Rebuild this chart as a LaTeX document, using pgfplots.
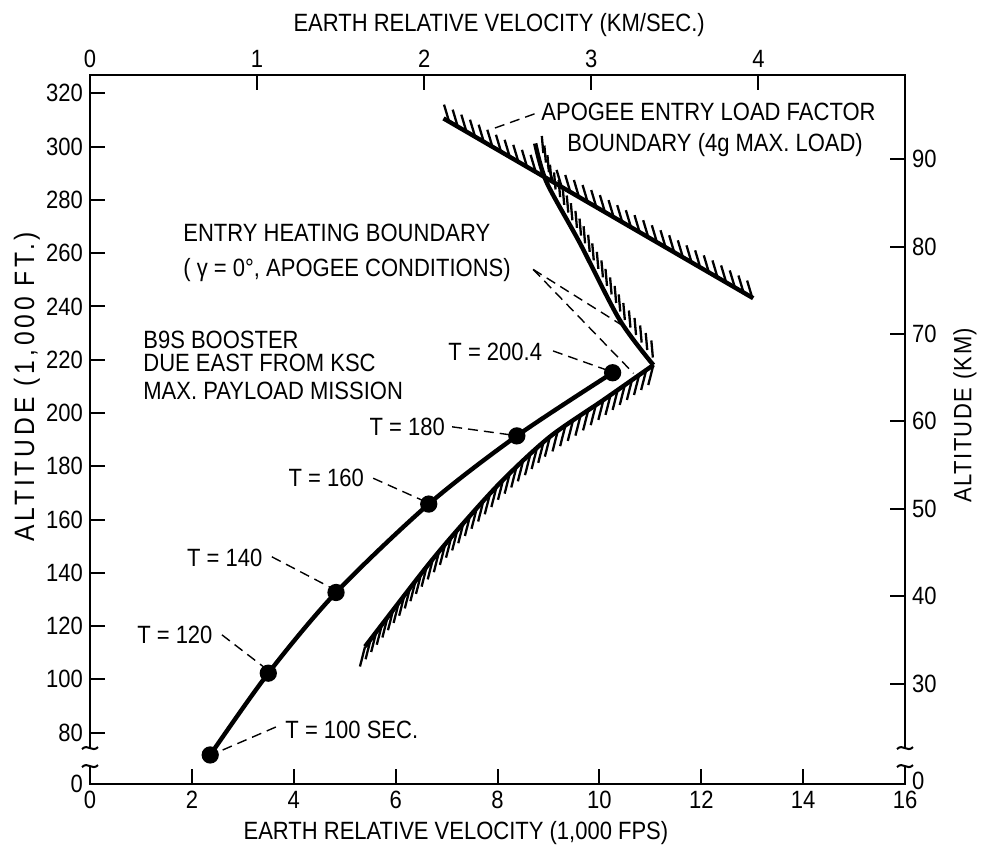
\documentclass[border=0pt]{standalone}
\usepackage{fontspec}
\setmainfont{Liberation Sans}[FakeStretch=0.88]
\usepackage{pgfplots}
\pgfplotsset{compat=1.18}
\usetikzlibrary{calc}
\newcommand{\lf}{\fontsize{12.5}{13}\selectfont}
% one hatch stroke of a boundary, drawn as its own pgfplots plot
\newcommand{\hs}[4]{\addplot[hatch] coordinates {(#1,#2) (#3,#4)};}
\begin{document}
\begin{tikzpicture}[font=\lf,
  lead/.style={line width=0.7pt, dash pattern=on 5pt off 3pt},
  lab/.style={anchor=west, inner sep=0pt},
  hatch/.style={black, line width=1.15pt}]
\begin{axis}[name=ax, at={(0,0)}, anchor=south west,
  scale only axis, width=407.5pt, height=354.5pt,
  xmin=0, xmax=16, ymin=60.7, ymax=326.9, clip=false,
  axis line style={line width=1.1pt},
  tick style={line width=1pt, black},
  tick align=inside, major tick length=7.5pt,
  xtick={0,2,4,6,8,10,12,14,16}, xtick pos=bottom,
  ytick={60.7,80,100,120,140,160,180,200,220,240,260,280,300,320},
  yticklabels={0,80,100,120,140,160,180,200,220,240,260,280,300,320},
  ytick pos=left,
  /pgf/number format/assume math mode=true,
  tick label style={font=\lf},
]
% entry heating boundary, lower branch
\addplot[black, line width=2.2pt, smooth]
  coordinates {(5.40,112.3) (6.61,142.3) (7.33,158.6) (8.11,174.9) (9.03,191.1) (10.08,204.9) (11.06,218.0)};
% hatching of lower branch
\hs{5.40}{112.30}{5.30}{104.80} \hs{5.51}{115.03}{5.41}{107.53} \hs{5.62}{117.75}{5.52}{110.25}
\hs{5.73}{120.48}{5.63}{112.98} \hs{5.84}{123.21}{5.74}{115.71} \hs{5.95}{125.94}{5.85}{118.44}
\hs{6.06}{128.66}{5.96}{121.16} \hs{6.17}{131.39}{6.07}{123.89} \hs{6.28}{134.12}{6.18}{126.62}
\hs{6.39}{136.84}{6.29}{129.34} \hs{6.50}{139.57}{6.40}{132.07} \hs{6.61}{142.30}{6.51}{134.80}
\hs{6.73}{145.02}{6.63}{137.52} \hs{6.85}{147.73}{6.75}{140.23} \hs{6.97}{150.45}{6.87}{142.95}
\hs{7.09}{153.17}{6.99}{145.67} \hs{7.21}{155.88}{7.11}{148.38} \hs{7.33}{158.60}{7.23}{151.10}
\hs{7.46}{161.32}{7.36}{153.82} \hs{7.59}{164.03}{7.49}{156.53} \hs{7.72}{166.75}{7.62}{159.25}
\hs{7.85}{169.47}{7.75}{161.97} \hs{7.98}{172.18}{7.88}{164.68} \hs{8.11}{174.90}{8.01}{167.40}
\hs{8.24}{177.21}{8.14}{169.71} \hs{8.37}{179.53}{8.27}{172.03} \hs{8.50}{181.84}{8.40}{174.34}
\hs{8.64}{184.16}{8.54}{176.66} \hs{8.77}{186.47}{8.67}{178.97} \hs{8.90}{188.79}{8.80}{181.29}
\hs{9.03}{191.10}{8.93}{183.60} \hs{9.18}{193.07}{9.08}{185.57} \hs{9.33}{195.04}{9.23}{187.54}
\hs{9.48}{197.01}{9.38}{189.51} \hs{9.63}{198.99}{9.53}{191.49} \hs{9.78}{200.96}{9.68}{193.46}
\hs{9.93}{202.93}{9.83}{195.43} \hs{10.08}{204.90}{9.98}{197.40} \hs{10.22}{206.77}{10.12}{199.27}
\hs{10.36}{208.64}{10.26}{201.14} \hs{10.50}{210.51}{10.40}{203.01} \hs{10.64}{212.39}{10.54}{204.89}
\hs{10.78}{214.26}{10.68}{206.76} \hs{10.92}{216.13}{10.82}{208.63} \hs{11.06}{218.00}{10.96}{210.50}
% entry heating boundary, upper branch
\addplot[black, line width=2.2pt, smooth]
  coordinates {(11.06,218.0) (10.40,234.9) (9.62,263.7) (8.96,286.8) (8.74,301.2)};
% hatching of upper branch
\hs{11.05}{220.82}{11.02}{227.22} \hs{10.94}{223.63}{10.91}{230.03} \hs{10.83}{226.45}{10.80}{232.85}
\hs{10.72}{229.27}{10.69}{235.67} \hs{10.61}{232.08}{10.58}{238.48} \hs{10.50}{234.90}{10.47}{241.30}
\hs{10.41}{238.10}{10.38}{244.50} \hs{10.33}{241.30}{10.30}{247.70} \hs{10.24}{244.50}{10.21}{250.90}
\hs{10.15}{247.70}{10.12}{254.10} \hs{10.07}{250.90}{10.04}{257.30} \hs{9.98}{254.10}{9.95}{260.50}
\hs{9.89}{257.30}{9.86}{263.70} \hs{9.81}{260.50}{9.78}{266.90} \hs{9.72}{263.70}{9.69}{270.10}
\hs{9.64}{266.59}{9.61}{272.99} \hs{9.56}{269.48}{9.53}{275.88} \hs{9.47}{272.36}{9.44}{278.76}
\hs{9.39}{275.25}{9.36}{281.65} \hs{9.31}{278.14}{9.28}{284.54} \hs{9.23}{281.03}{9.20}{287.43}
\hs{9.14}{283.91}{9.11}{290.31} \hs{9.06}{286.80}{9.03}{293.20} \hs{9.01}{290.40}{8.98}{296.80}
\hs{8.95}{294.00}{8.92}{300.40} \hs{8.90}{297.60}{8.87}{304.00}
% apogee entry load factor boundary
\addplot[black, line width=2.2pt]
  coordinates {(6.94,310.6) (13.02,243.1)};
% hatching of load factor boundary
\hs{7.05}{309.38}{6.95}{315.78} \hs{7.22}{307.49}{7.12}{313.89} \hs{7.39}{305.61}{7.29}{312.01}
\hs{7.56}{303.72}{7.46}{310.12} \hs{7.73}{301.83}{7.63}{308.23} \hs{7.90}{299.94}{7.80}{306.34}
\hs{8.07}{298.06}{7.97}{304.46} \hs{8.24}{296.17}{8.14}{302.57} \hs{8.41}{294.28}{8.31}{300.68}
\hs{8.58}{292.40}{8.48}{298.80} \hs{8.75}{290.51}{8.65}{296.91} \hs{8.92}{288.62}{8.82}{295.02}
\hs{9.09}{286.74}{8.99}{293.14} \hs{9.26}{284.85}{9.16}{291.25} \hs{9.43}{282.96}{9.33}{289.36}
\hs{9.60}{281.07}{9.50}{287.47} \hs{9.77}{279.19}{9.67}{285.59} \hs{9.94}{277.30}{9.84}{283.70}
\hs{10.11}{275.41}{10.01}{281.81} \hs{10.28}{273.53}{10.18}{279.93} \hs{10.45}{271.64}{10.35}{278.04}
\hs{10.62}{269.75}{10.52}{276.15} \hs{10.79}{267.87}{10.69}{274.27} \hs{10.96}{265.98}{10.86}{272.38}
\hs{11.13}{264.09}{11.03}{270.49} \hs{11.30}{262.20}{11.20}{268.60} \hs{11.47}{260.32}{11.37}{266.72}
\hs{11.64}{258.43}{11.54}{264.83} \hs{11.81}{256.54}{11.71}{262.94} \hs{11.98}{254.66}{11.88}{261.06}
\hs{12.15}{252.77}{12.05}{259.17} \hs{12.32}{250.88}{12.22}{257.28} \hs{12.49}{249.00}{12.39}{255.40}
\hs{12.66}{247.11}{12.56}{253.51} \hs{12.83}{245.22}{12.73}{251.62} \hs{13.00}{243.33}{12.90}{249.73}
% trajectory
\addplot[black, line width=2.2pt, smooth, mark=*, mark size=3.2pt]
  coordinates {(2.36,71.6) (3.50,102.3) (4.83,132.6) (6.65,165.8) (8.38,191.4) (10.26,215.1)};

% annotations
\node[lab] at (axis cs:8.854,312.97) {APOGEE ENTRY LOAD FACTOR};
\node[lab] at (axis cs:9.364,300.6) {BOUNDARY (4g MAX. LOAD)};
\node[lab] at (axis cs:1.826,267.6) {ENTRY HEATING BOUNDARY};
\node[lab] at (axis cs:1.826,253.7) {( γ = 0°, APOGEE CONDITIONS)};
\node[lab] at (axis cs:1.04,227.5) {B9S BOOSTER};
\node[lab] at (axis cs:1.04,218.8) {DUE EAST FROM KSC};
\node[lab] at (axis cs:1.04,208.3) {MAX. PAYLOAD MISSION};
\node[lab] at (axis cs:7.03,222.9) {T = 200.4};
\node[lab] at (axis cs:5.48,194.8) {T = 180};
\node[lab] at (axis cs:3.89,175.6) {T = 160};
\node[lab] at (axis cs:1.90,145.6) {T = 140};
\node[lab] at (axis cs:0.92,116.7) {T = 120};
\node[lab] at (axis cs:3.83,81.0) {T = 100 SEC.};

\draw[lead] (axis cs:7.95,307.0) -- (axis cs:8.77,312.6);
\draw[lead] (axis cs:8.70,253.9) -- (axis cs:10.44,233.0);
\draw[lead] (axis cs:8.70,253.9) -- (axis cs:10.67,214.9);
\draw[lead] (axis cs:9.09,223.3) -- (axis cs:10.12,216.3);
\draw[lead] (axis cs:7.11,194.8) -- (axis cs:8.25,191.8);
\draw[lead] (axis cs:5.56,175.5) -- (axis cs:6.55,167.0);
\draw[lead] (axis cs:3.57,146.0) -- (axis cs:4.72,134.5);
\draw[lead] (axis cs:2.59,116.7) -- (axis cs:3.42,104.5);
\draw[lead] (axis cs:3.65,82.1) -- (axis cs:2.50,72.6);

\coordinate (bl) at (axis cs:0,70.8);
\coordinate (br) at (axis cs:16,70.8);
\node at ([yshift=25pt]rel axis cs:0.502,1) {EARTH RELATIVE VELOCITY (KM/SEC.)};
\node at ([yshift=-24.5pt]rel axis cs:0.449,0) {EARTH RELATIVE VELOCITY (1,000 FPS)};
\node[rotate=90, font=\fontsize{14}{15}\selectfont\addfontfeatures{LetterSpace=14}]
  at ([xshift=-31.5pt]rel axis cs:0,0.56) {ALTITUDE (1,000 FT.)};
\node[rotate=90, font=\fontsize{12.5}{13}\selectfont\addfontfeatures{LetterSpace=6}]
  at ([xshift=30pt]rel axis cs:1,0.52) {ALTITUDE (KM)};
\end{axis}
\begin{axis}[at={(ax.south west)}, anchor=south west,
  scale only axis, width=407.5pt, height=354.5pt,
  xmin=0, xmax=16, ymin=60.7, ymax=326.9,
  axis x line*=top, axis y line*=right,
  axis line style={-, line width=1.1pt},
  tick style={line width=1pt, black},
  tick align=inside, major tick length=7.5pt,
  xtick={0,3.2808,6.5617,9.8425,13.1234}, xticklabels={0,1,2,3,4},
  ytick={60.7,98.43,131.23,164.04,196.85,229.66,262.47,295.28},
  yticklabels={\raisebox{3.5pt}{0},30,40,50,60,70,80,90},
  tick label style={font=\lf},
]
\end{axis}
% axis breaks
\foreach \c in {bl,br}{
  \fill[white] ($(\c)+(-4pt,-4.5pt)$) rectangle ($(\c)+(4pt,4.5pt)$);
  \draw[line width=1pt] ($(\c)+(-4pt,4pt)$) .. controls +(3pt,3pt) and +(-3pt,-3pt) .. ($(\c)+(4pt,5pt)$);
  \draw[line width=1pt] ($(\c)+(-4pt,-5pt)$) .. controls +(3pt,3pt) and +(-3pt,-3pt) .. ($(\c)+(4pt,-4pt)$);
}
\pgfresetboundingbox
\path[use as bounding box] ([shift={(-45pt,-33pt)}]ax.south west) rectangle ([shift={(38pt,37.5pt)}]ax.north east);
\end{tikzpicture}
\end{document}
